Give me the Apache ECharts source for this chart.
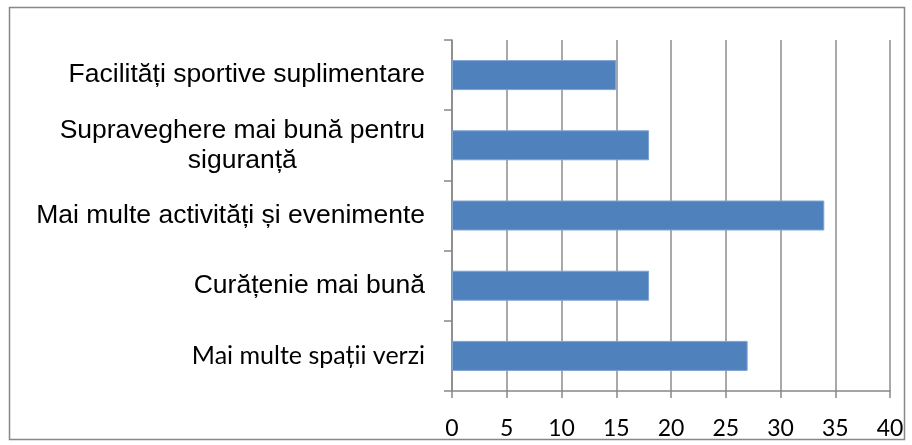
<!DOCTYPE html>
<html><head><meta charset="utf-8">
<script src="https://cdn.jsdelivr.net/npm/echarts@6/dist/echarts.min.js"></script>
<style>html,body{margin:0;padding:0;background:#fff}#c{width:912px;height:445px}</style>
</head><body><div id="c"></div>
<script>
const categories = ["Mai multe spații verzi", "Curățenie mai bună", "Mai multe activități și evenimente", "Supraveghere mai bună pentru\nsiguranță", "Facilități sportive suplimentare"];
const values = [27, 18, 34, 18, 15];
const xTicks = [0, 5, 10, 15, 20, 25, 30, 35, 40];

const chart = echarts.init(document.getElementById('c'));
chart.setOption({
  animation: false,
  graphic: [{type:'rect', shape:{x:9.5, y:7.5, width:895, height:432}, style:{fill:'none', stroke:'#878787', lineWidth:1.5}, silent:true}],
  grid: {left: 452, right: 22, top: 40, bottom: 54},
  xAxis: {
    type: 'value', min: xTicks[0], max: xTicks[xTicks.length-1], interval: 5,
    axisLine: {show: true, lineStyle: {color: '#888', width: 1.5}},
    axisTick: {show: true, length: 7, lineStyle: {color: '#888', width: 1.5}},
    splitLine: {show: true, lineStyle: {color: '#8c8c8c', width: 1.5}},
    axisLabel: {color: '#000', fontFamily: 'Lato', fontSize: 23, margin: 26}
  },
  yAxis: {
    type: 'category', data: categories,
    axisLine: {show: true, lineStyle: {color: '#888', width: 1.5}},
    axisTick: {show: true, length: 8, lineStyle: {color: '#888', width: 1.5}},
    axisLabel: {
      color: '#000', fontFamily: 'Liberation Sans', fontSize: 26.5, margin: 27, lineHeight: 30, align: 'right',
      formatter: function(v, i){
        if (i === 0) return '{c|' + v + '}';
        if (v.indexOf('\n') >= 0) return v.split('\n').map(function(s){ return '{m|' + s + '}'; }).join('\n');
        return v;
      },
      rich: {
        c: {fontFamily: 'Lato', fontSize: 25, color: '#000'},
        m: {fontFamily: 'Liberation Sans', fontSize: 26.5, lineHeight: 30, align: 'center', color: '#000'}
      }
    }
  },
  series: [{
    type: 'bar', data: values, barWidth: 30,
    itemStyle: {color: '#4F81BD', borderColor: '#7fa4d4', borderWidth: 1}
  }]
});
</script></body></html>
